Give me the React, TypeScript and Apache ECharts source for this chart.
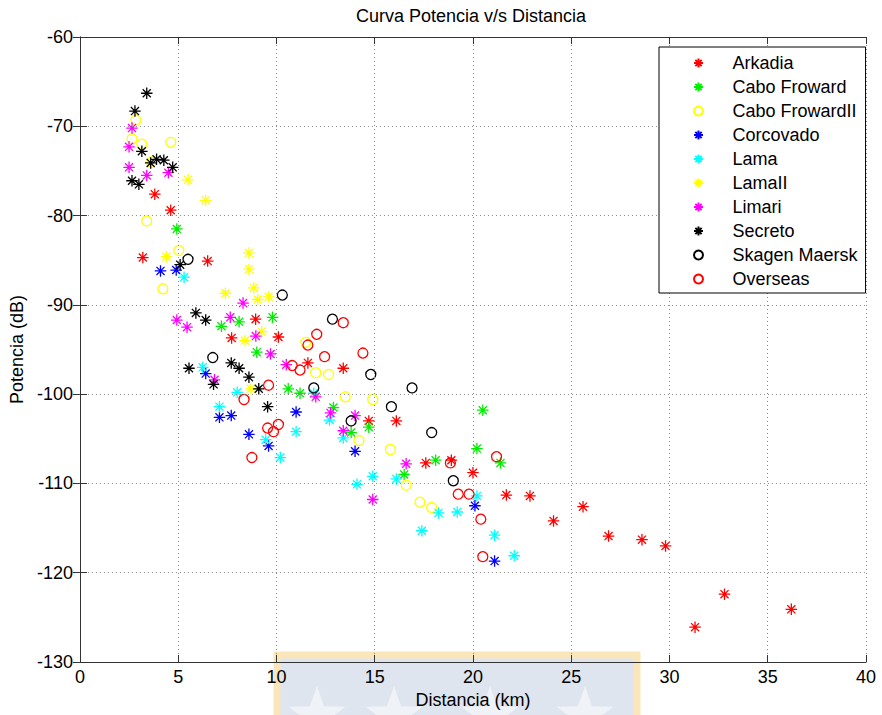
import React, { useEffect, useRef } from "react";
import * as echarts from "echarts";

const FONT = "'Liberation Sans', Arial, Helvetica, sans-serif";

const xTicks = [0, 5, 10, 15, 20, 25, 30, 35, 40];
const yTicks = [-130, -120, -110, -100, -90, -80, -70, -60];

const seriesNames = [
  "Arkadia",
  "Cabo Froward",
  "Cabo FrowardII",
  "Corcovado",
  "Lama",
  "LamaII",
  "Limari",
  "Secreto",
  "Skagen Maersk",
  "Overseas",
];

const arkadia = [
  [3.2, -84.7], [3.81, -77.6], [4.62, -79.4], [6.5, -85.1], [8.94, -91.6], [7.72, -93.7],
  [10.1, -93.6], [11.6, -96.5], [13.4, -97.1], [14.7, -103.0], [16.1, -103.0], [17.6, -107.7],
  [18.9, -107.4], [20.0, -108.8], [21.7, -111.3], [22.9, -111.4], [24.1, -114.2], [25.6, -112.6],
  [26.9, -115.9], [28.6, -116.3], [29.8, -117.0], [31.3, -126.1], [32.8, -122.4], [36.2, -124.1],
];

const caboFroward = [
  [4.93, -81.5], [7.2, -92.4], [8.1, -91.9], [9.8, -91.4], [9.0, -95.3], [10.6, -99.4],
  [11.2, -99.9], [12.9, -101.5], [13.8, -104.3], [14.7, -103.7], [16.5, -109.0], [18.1, -107.4],
  [20.2, -106.1], [20.5, -101.8], [21.4, -107.7],
];

const caboFrowardII = [
  [2.85, -69.3], [2.65, -71.4], [3.15, -72.0], [4.62, -71.8], [3.65, -74.0], [3.4, -80.6],
  [5.03, -83.9], [4.22, -88.2], [11.5, -94.2], [12.0, -97.6], [12.65, -97.8], [13.5, -100.3],
  [14.9, -100.6], [14.2, -105.2], [15.8, -106.2], [16.6, -110.2], [17.3, -112.1], [17.9, -112.7],
];

const corcovado = [
  [4.1, -86.2], [4.9, -86.1], [6.4, -97.7], [7.1, -102.6], [7.7, -102.4], [8.6, -104.5],
  [9.6, -105.8], [11.0, -102.0], [14.0, -106.4], [20.1, -112.5], [21.1, -118.7],
];

const lama = [
  [5.3, -86.9], [6.25, -97.0], [8.0, -99.8], [7.1, -101.4], [9.45, -105.1], [10.2, -107.1],
  [11.0, -104.2], [11.9, -99.9], [12.7, -102.9], [13.4, -104.9], [14.1, -110.1], [14.9, -109.2],
  [16.1, -109.5], [17.4, -115.3], [18.25, -113.3], [19.2, -113.2], [20.2, -111.4], [21.1, -115.8],
  [22.1, -118.1],
];

const lamaII = [
  [5.5, -76.0], [6.4, -78.3], [4.4, -84.6], [8.6, -84.2], [8.6, -86.0], [8.85, -88.1],
  [7.4, -88.7], [9.05, -89.4], [9.6, -89.1], [8.4, -94.0], [9.25, -93.0], [8.7, -99.4],
];

const limari = [
  [2.65, -70.2], [2.5, -72.3], [2.5, -74.6], [3.4, -75.5], [4.5, -75.2], [4.93, -91.7],
  [5.45, -92.5], [7.65, -91.4], [8.3, -89.8], [8.95, -93.5], [9.7, -95.5], [6.85, -98.4],
  [10.5, -96.7], [12.0, -100.3], [12.75, -102.1], [14.0, -102.4], [13.4, -104.1], [16.6, -107.8],
  [14.9, -111.8],
];

const secreto = [
  [3.4, -66.3], [2.8, -68.3], [3.15, -72.8], [3.6, -74.1], [3.9, -73.7], [4.27, -73.8],
  [4.72, -74.6], [2.65, -76.1], [3.0, -76.5], [5.1, -85.5], [5.9, -90.9], [6.4, -91.7],
  [5.55, -97.1], [7.7, -96.5], [8.1, -97.1], [8.6, -98.1], [6.8, -98.9], [9.1, -99.4],
  [9.55, -101.4],
];

const skagenMaersk = [
  [5.5, -84.9], [6.76, -95.9], [10.3, -88.9], [12.85, -91.6], [11.9, -99.3], [14.8, -97.8],
  [13.8, -103.0], [15.85, -101.4], [16.9, -99.3], [17.9, -104.3], [19.0, -109.7],
];

const overseas = [
  [13.4, -92.0], [12.05, -93.3], [11.6, -94.5], [12.45, -95.8], [14.4, -95.4], [10.8, -96.8],
  [11.2, -97.3], [9.6, -99.0], [8.35, -100.6], [9.55, -103.8], [9.85, -104.2], [10.1, -103.4],
  [8.75, -107.1], [18.85, -107.7], [21.2, -107.0], [19.25, -111.2], [19.8, -111.2], [20.4, -114.0],
  [20.5, -118.2],
];

const seriesData = [
  arkadia, caboFroward, caboFrowardII, corcovado, lama,
  lamaII, limari, secreto, skagenMaersk, overseas,
];
const seriesColors = [
  "#ff0000", "#00ee00", "#ffff00", "#0000ff", "#00ffff",
  "#ffff00", "#ff00ff", "#000000", "#000000", "#ff0000",
];
const seriesMarkers = [
  "star", "star", "circle", "star", "star",
  "star", "star", "star", "circle", "circle",
];

const STAR = "path://M0,5L10,5M5,0L5,10M1.5,1.5L8.5,8.5M8.5,1.5L1.5,8.5";

function starPoints(cx: number, cy: number, r: number) {
  const pts: number[][] = [];
  for (let i = 0; i < 10; i++) {
    const a = -Math.PI / 2 + (i * Math.PI) / 5;
    const rr = i % 2 === 0 ? r : r * 0.4;
    pts.push([cx + rr * Math.cos(a), cy + rr * Math.sin(a)]);
  }
  return pts;
}

export default function App() {
  const ref = useRef<HTMLDivElement>(null);

  useEffect(() => {
    if (!ref.current) return;
    const chart = echarts.init(ref.current, null, { renderer: "svg" });

    const axisLine = { show: true, lineStyle: { color: "#333", width: 1 } };
    const tick = { show: true, inside: true, length: 7, lineStyle: { color: "#333" } };
    const split = { show: true, lineStyle: { color: "#888", type: [1, 3], width: 1 } };

    const series = seriesNames.map((name, i) => {
      const isStar = seriesMarkers[i] === "star";
      return {
        type: "scatter",
        name,
        data: seriesData[i],
        xAxisIndex: 0,
        yAxisIndex: 0,
        symbol: isStar ? STAR : "circle",
        symbolSize: isStar ? 11.5 : 10,
        itemStyle: {
          color: isStar ? seriesColors[i] : "transparent",
          borderColor: seriesColors[i],
          borderWidth: 1.3,
          opacity: 1,
        },
        emphasis: { disabled: true },
        silent: true,
        z: 3,
      };
    });

    const stars = [317, 394, 490, 585].map((cx) => ({
      type: "polygon",
      shape: { points: starPoints(cx, 716, 30) },
      style: { fill: "#eff2f7" },
      z: -9,
      silent: true,
    }));

    chart.setOption({
      animation: false,
      backgroundColor: "#ffffff",
      textStyle: { fontFamily: FONT },
      title: {
        text: "Curva Potencia v/s Distancia",
        left: 356,
        top: 7,
        padding: 0,
        textStyle: { fontSize: 18, fontWeight: "normal", color: "#000", fontFamily: FONT },
      },
      graphic: [
        {
          type: "rect",
          shape: { x: 277, y: 655, width: 360, height: 70 },
          style: { fill: "#dfe5ee", stroke: "#fbe6bb", lineWidth: 7 },
          z: -10,
          silent: true,
        },
        ...stars,
      ],
      grid: { left: 79, right: 16, top: 37, bottom: 53, containLabel: false },
      legend: {
        orient: "vertical",
        left: 659,
        top: 47,
        backgroundColor: "#ffffff",
        borderColor: "#000",
        borderWidth: 1,
        padding: [7, 8, 5, 34],
        itemWidth: 58,
        itemHeight: 9,
        itemGap: 6,
        textStyle: { fontSize: 18, color: "#000", fontFamily: FONT },
        data: seriesNames,
        selectedMode: false,
        z: 10,
      },
      xAxis: [
        {
          type: "value",
          position: "bottom",
          min: xTicks[0],
          max: xTicks[xTicks.length - 1],
          interval: 5,
          axisLine,
          axisTick: tick,
          splitLine: split,
          axisLabel: { fontSize: 18, color: "#000", margin: 6, fontFamily: FONT },
          name: "Distancia (km)",
          nameLocation: "middle",
          nameGap: 26,
          nameTextStyle: { fontSize: 18, color: "#000", fontFamily: FONT },
          z: 5,
        },
        {
          type: "value",
          position: "top",
          min: xTicks[0],
          max: xTicks[xTicks.length - 1],
          interval: 5,
          axisLine,
          axisTick: tick,
          splitLine: { show: false },
          axisLabel: { show: false },
          z: 5,
        },
      ],
      yAxis: [
        {
          type: "value",
          position: "left",
          min: yTicks[0],
          max: yTicks[yTicks.length - 1],
          interval: 10,
          axisLine,
          axisTick: tick,
          splitLine: split,
          axisLabel: { fontSize: 18, color: "#000", margin: 7, fontFamily: FONT },
          name: "Potencia (dB)",
          nameLocation: "middle",
          nameGap: 52,
          nameRotate: 90,
          nameTextStyle: { fontSize: 18, color: "#000", fontFamily: FONT },
          z: 5,
        },
        {
          type: "value",
          position: "right",
          min: yTicks[0],
          max: yTicks[yTicks.length - 1],
          interval: 10,
          axisLine,
          axisTick: tick,
          splitLine: { show: false },
          axisLabel: { show: false },
          z: 5,
        },
      ],
      series,
    });

    return () => {
      chart.dispose();
    };
  }, []);

  return (
    <div
      ref={ref}
      style={{ position: "absolute", left: 0, top: 0, width: 882, height: 715, background: "#fff" }}
    />
  );
}
